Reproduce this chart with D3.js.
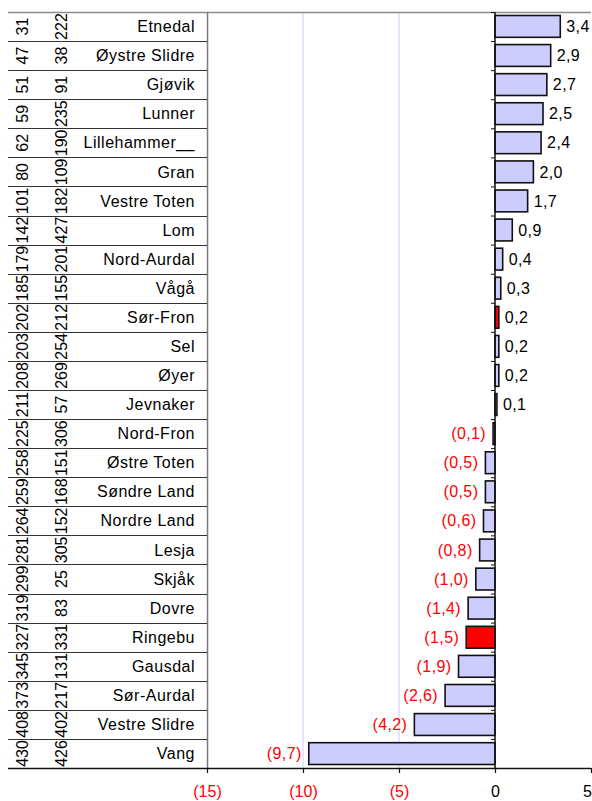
<!DOCTYPE html>
<html>
<head>
<meta charset="utf-8">
<script src="https://cdn.jsdelivr.net/npm/d3@7"></script>
<style>
  body { margin: 0; background: #fff; }
  text { font-family: "Liberation Sans", Arial, sans-serif; }
</style>
</head>
<body>
<div id="vis-container"></div>
<script>
// Data
var names = ["Etnedal", "Øystre Slidre", "Gjøvik", "Lunner", "Lillehammer__", "Gran", "Vestre Toten",
    "Lom", "Nord-Aurdal", "Vågå", "Sør-Fron", "Sel", "Øyer", "Jevnaker", "Nord-Fron", "Østre Toten",
    "Søndre Land", "Nordre Land", "Lesja", "Skjåk", "Dovre", "Ringebu", "Gausdal", "Sør-Aurdal",
    "Vestre Slidre", "Vang"];
var rankA = [31, 47, 51, 59, 62, 80, 101, 142, 179, 185, 202, 203, 208, 211, 225, 258, 259, 264,
    281, 299, 319, 327, 345, 373, 408, 430];
var rankB = [222, 38, 91, 235, 190, 109, 182, 427, 201, 155, 212, 254, 269, 57, 306, 151, 168, 152,
    305, 25, 83, 331, 131, 217, 402, 426];
var values = [3.4, 2.9, 2.7, 2.5, 2.4, 2.0, 1.7, 0.9, 0.4, 0.3, 0.2, 0.2, 0.2, 0.1, -0.1, -0.5,
    -0.5, -0.6, -0.8, -1.0, -1.4, -1.5, -1.9, -2.6, -4.2, -9.7];
var highlighted = ["Sør-Fron", "Ringebu"];
var xTicks = [-15, -10, -5, 0, 5];

var width = 592, height = 801;
var plot = { left: 207, right: 591, top: 12, bottom: 768 };
var labelLeft = 8;

var rows = names.map(function (n, i) {
    return { name: n, a: rankA[i], b: rankB[i], value: values[i] };
});

var svg = d3.select("#vis-container").append("svg")
    .attr("width", width).attr("height", height);

var x = d3.scaleLinear().domain([-15, 5]).range([plot.left, plot.right]);
var y = d3.scaleBand().domain(names).range([plot.top, plot.bottom]);
var yBar = d3.scaleBand().domain(names).range([plot.top, plot.bottom]).paddingInner(0.25).paddingOuter(0.12);

function fmt(v) {
    var s = Math.abs(v).toFixed(1).replace(".", ",");
    return v < 0 ? "(" + s + ")" : s;
}
function fmtTick(v) {
    return v < 0 ? "(" + Math.abs(v) + ")" : String(v);
}

// gridlines
svg.append("g").selectAll("line")
    .data([-10, -5])
    .join("line")
    .attr("x1", function (d) { return x(d); })
    .attr("x2", function (d) { return x(d); })
    .attr("y1", plot.top).attr("y2", plot.bottom)
    .attr("stroke", "#ccccff").attr("stroke-width", 1);

// top border and left plot border
svg.append("line").attr("x1", labelLeft).attr("x2", plot.right).attr("y1", plot.top + 0.5).attr("y2", plot.top + 0.5)
    .attr("stroke", "#8c8c8c").attr("stroke-width", 1.5);
svg.append("line").attr("x1", plot.left + 0.5).attr("x2", plot.left + 0.5).attr("y1", plot.top).attr("y2", plot.bottom)
    .attr("stroke", "#7a7a7a").attr("stroke-width", 1.5);

// row separators in the label table
svg.append("g").selectAll("line")
    .data(names.slice(1))
    .join("line")
    .attr("x1", labelLeft).attr("x2", plot.left)
    .attr("y1", function (d) { return Math.round(y(d)) + 0.5; })
    .attr("y2", function (d) { return Math.round(y(d)) + 0.5; })
    .attr("stroke", "#333").attr("stroke-width", 1.2);

// bars
svg.append("g").selectAll("rect")
    .data(rows)
    .join("rect")
    .attr("x", function (d) { return x(Math.min(0, d.value)); })
    .attr("y", function (d) { return yBar(d.name); })
    .attr("width", function (d) { return Math.abs(x(d.value) - x(0)); })
    .attr("height", yBar.bandwidth())
    .attr("fill", function (d) { return highlighted.indexOf(d.name) >= 0 ? "#ff0000" : "#ccccff"; })
    .attr("stroke", "#111").attr("stroke-width", 1.6);

// zero axis with ticks at the row boundaries
svg.append("line").attr("x1", x(0)).attr("x2", x(0)).attr("y1", plot.top).attr("y2", plot.bottom)
    .attr("stroke", "#111").attr("stroke-width", 1.5);
svg.append("g").selectAll("line")
    .data(names)
    .join("line")
    .attr("x1", x(0) - 4).attr("x2", x(0))
    .attr("y1", function (d) { return y(d) + 0.5; })
    .attr("y2", function (d) { return y(d) + 0.5; })
    .attr("stroke", "#111").attr("stroke-width", 1);

// value labels
svg.append("g").selectAll("text")
    .data(rows)
    .join("text")
    .attr("x", function (d) { return d.value < 0 ? x(d.value) - 7 : x(d.value) + 6; })
    .attr("y", function (d) { return y(d.name) + y.bandwidth() / 2; })
    .attr("dy", "0.35em")
    .attr("text-anchor", function (d) { return d.value < 0 ? "end" : "start"; })
    .attr("fill", function (d) { return d.value < 0 ? "#ff0000" : "#000"; })
    .style("font-size", "16px")
    .style("letter-spacing", "0.4px")
    .text(function (d) { return fmt(d.value); });

// category labels: names
svg.append("g").selectAll("text")
    .data(rows)
    .join("text")
    .attr("x", 195)
    .attr("y", function (d) { return y(d.name) + y.bandwidth() / 2; })
    .attr("dy", "0.35em")
    .attr("text-anchor", "end")
    .style("font-size", "16px")
    .style("letter-spacing", "0.5px")
    .text(function (d) { return d.name; });

// category labels: rotated numbers
[["a", 22], ["b", 61]].forEach(function (col) {
    svg.append("g").selectAll("text")
        .data(rows)
        .join("text")
        .attr("transform", function (d) {
            return "translate(" + col[1] + "," + (y(d.name) + y.bandwidth() / 2) + ") rotate(-90)";
        })
        .attr("dy", "0.36em")
        .attr("text-anchor", "middle")
        .style("font-size", "16px")
        .text(function (d) { return d[col[0]]; });
});

// bottom axis
var axisG = svg.append("g").attr("transform", "translate(0," + plot.bottom + ")");
axisG.append("line").attr("x1", labelLeft).attr("x2", plot.right).attr("y1", 0.5).attr("y2", 0.5)
    .attr("stroke", "#111").attr("stroke-width", 1.5);
axisG.call(d3.axisBottom(x).tickValues(xTicks).tickSize(5).tickFormat(fmtTick));
axisG.select(".domain").remove();
axisG.selectAll(".tick line").attr("stroke", "#111").attr("stroke-width", 1.2);
axisG.selectAll(".tick text")
    .attr("y", 18)
    .style("font-size", "16px")
    .style("font-family", "'Liberation Sans', Arial, sans-serif")
    .attr("fill", function (d) { return d < 0 ? "#ff0000" : "#000"; });
// last tick label sits at the window edge: keep it fully visible
axisG.selectAll(".tick text").filter(function (d) { return d === 5; })
    .attr("text-anchor", "end").attr("x", 0.5);
</script>
</body>
</html>
